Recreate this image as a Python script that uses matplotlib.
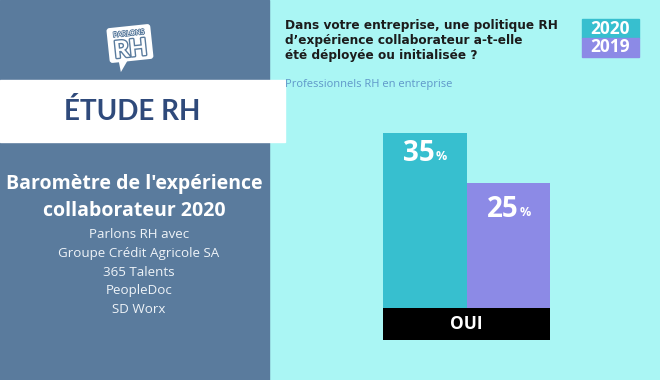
import matplotlib
matplotlib.use("Agg")
import matplotlib.pyplot as plt
from matplotlib.patches import Rectangle, FancyBboxPatch, Polygon
from matplotlib.transforms import Affine2D
import matplotlib.patheffects as pe

# ---- data ----
years = ["2020", "2019"]
values = [35, 25]
category = "OUI"
question = ["Dans votre entreprise, une politique RH",
            "d\u2019expérience collaborateur a-t-elle",
            "été déployée ou initialisée ?"]
subtitle = "Professionnels RH en entreprise"
study_title = "ÉTUDE RH"
barometer_title = ["Baromètre de l'expérience", "collaborateur 2020"]
partners = ["Parlons RH avec", "Groupe Crédit Agricole SA", "365 Talents",
            "PeopleDoc", "SD Worx"]

# ---- styles ----
bar_colors = ["#37bfcf", "#8c8ae6"]
left_bg = "#5a7b9d"
right_bg = "#aaf6f4"
dark_blue = "#2f4a7b"
FONT = "Lato"
WIDE = "Open Sans"
WIDER = "DejaVu Sans"

W, H = 660, 380
fig = plt.figure(figsize=(W / 100, H / 100), dpi=100)

bg = fig.add_axes([0, 0, 1, 1])
bg.set_xlim(0, W)
bg.set_ylim(H, 0)
bg.axis("off")
bg.add_patch(Rectangle((0, 0), W, H, color=right_bg, zorder=0))
bg.add_patch(Rectangle((0, 0), 269, H, color=left_bg, zorder=1))
bg.add_patch(Rectangle((0, 80), 285, 62, color="white", zorder=2))

# logo
rot = Affine2D().rotate_deg_around(130, 44, -6) + bg.transData
bub = FancyBboxPatch((108, 26), 44, 35, boxstyle="round,pad=0,rounding_size=3",
                     fc="white", ec="none", zorder=3, transform=rot)
bg.add_patch(bub)
bg.add_patch(Polygon([(117, 60), (126, 60), (118, 71)], closed=True,
                     fc="white", ec="none", zorder=3, transform=rot))
bg.text(130, 33, "PARLONS", transform=rot, fontsize=5, color="white",
        family=FONT, ha="center", va="center", zorder=4, rotation=6,
        path_effects=[pe.withStroke(linewidth=1.2, foreground=left_bg)])
bg.text(130, 49, "RH", transform=rot, fontsize=17, color="white",
        family=FONT, weight="bold", ha="center", va="center", zorder=4, rotation=6,
        path_effects=[pe.withStroke(linewidth=2, foreground=left_bg)])

# left panel text
bg.text(132, 111, study_title, fontsize=20, weight="bold", color=dark_blue,
        family=FONT, ha="center", va="center", zorder=4)
for i, line in enumerate(barometer_title):
    bg.text(134, 184 + i * 27, line, fontsize=14, weight="bold", color="white",
            family=WIDE, ha="center", va="center", zorder=4)
for i, line in enumerate(partners):
    bg.text(139, 235 + i * 18.6, line, fontsize=9.6, color="#eef3f8",
            family=WIDE, ha="center", va="center", zorder=4)

# question text
for i, line in enumerate(question):
    bg.text(285, 25 + i * 15.2, line, fontsize=8.75, weight="bold", color="#1c1c1c",
            family=WIDER, ha="left", va="center", zorder=4)
bg.text(285, 84, subtitle, fontsize=8, color="#5f97c9",
        family=WIDE, ha="left", va="center", zorder=4)

# year legend
for i, (yr, c) in enumerate(zip(years, bar_colors)):
    bg.add_patch(Rectangle((582, 19 + i * 19), 57, 19, color=c, zorder=3))
    bg.text(610.5, 28.5 + i * 19, yr, fontsize=12.5, weight="bold", color="white",
            family=WIDE, ha="center", va="center", zorder=4)

# bars
ax = fig.add_axes([383 / W, (H - 308) / H, 167 / W, 200 / H])
ax.set_facecolor("none")
ax.set_xlim(-0.5, len(values) - 0.5)
ax.set_ylim(0, 40)
ax.axis("off")
xs = list(range(len(values)))
ax.bar(xs, values, width=1.0, color=bar_colors, linewidth=0)
label_offsets = [-15, -19]
for x, v, off in zip(xs, values, label_offsets):
    ax.annotate(f"{v}", (x, v), xytext=(-4, off), textcoords="offset points",
                ha="center", va="center", fontsize=20, weight="bold",
                color="white", family=WIDE)
    ax.annotate("%", (x, v), xytext=(12, off - 2), textcoords="offset points",
                ha="center", va="center", fontsize=9, weight="bold",
                color="white", family=WIDE)

cat_ax = fig.add_axes([383 / W, (H - 340) / H, 167 / W, 32 / H])
cat_ax.set_facecolor("black")
cat_ax.set_xticks([])
cat_ax.set_yticks([])
for s in cat_ax.spines.values():
    s.set_visible(False)
cat_ax.text(0.5, 0.5, category, transform=cat_ax.transAxes, fontsize=12.5,
            weight="bold", color="white", family=WIDE, ha="center", va="center")

fig.savefig("out.png", dpi=100)
